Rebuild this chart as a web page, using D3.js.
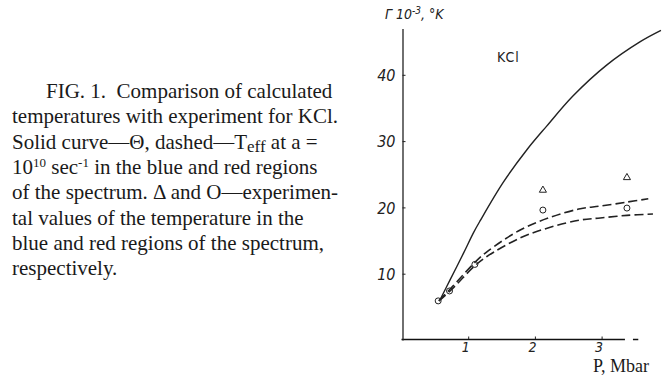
<!DOCTYPE html>
<html>
<head>
<meta charset="utf-8">
<script src="https://cdn.jsdelivr.net/npm/d3@7"></script>
<style>
  body { margin: 0; background: #fff; }
  .cap { font-family: "Liberation Serif", "Times New Roman", serif; font-size: 21px; fill: #1a1a1a; white-space: pre; }
  .tick text { font-family: "Liberation Sans Narrow", "DejaVu Sans Condensed", sans-serif; font-style: italic; font-size: 16px; fill: #222; }
  .xax .tick text { font-size: 14px; }
</style>
</head>
<body>
<svg id="chart" width="670" height="376"></svg>
<script>
// caption lines (text, sub/superscripts marked)
var captionLines = [
    [["FIG. 1.  Comparison of calculated", ""]],
    [["temperatures with experiment for KCl.", ""]],
    [["Solid curve\u2014\u0398, dashed\u2014T", ""], ["eff", "sub"], [" at a =", ""]],
    [["10", ""], ["10", "sup"], [" sec", ""], ["-1", "sup"], [" in the blue and red regions", ""]],
    [["of the spectrum. \u0394 and O\u2014experimen-", ""]],
    [["tal values of the temperature in the", ""]],
    [["blue and red regions of the spectrum,", ""]],
    [["respectively.", ""]]
];

// solid curve: Theta
var solidP = [0.58, 0.73, 0.93, 1.08, 1.18, 1.52, 1.88, 2.18, 2.57, 3.08, 3.58, 3.89];
var solidT = [6.1, 9.1, 13.1, 16.2, 18.0, 23.7, 28.7, 32.3, 36.8, 41.5, 45.0, 46.7];

// dashed curves: T_eff blue (upper) and red (lower)
var blueP = [0.56, 0.74, 1.10, 1.28, 1.78, 2.23, 2.68, 2.98, 3.38, 3.70];
var blueT = [5.9, 7.8, 11.7, 13.3, 16.6, 18.5, 19.8, 20.2, 20.8, 21.3];
var redP = [0.56, 0.74, 1.10, 1.28, 1.78, 2.23, 2.68, 2.98, 3.38, 3.77];
var redT = [5.9, 7.5, 11.2, 12.6, 15.4, 17.0, 18.1, 18.4, 18.8, 19.0];

// experimental points
var triP = [2.12, 3.38];
var triT = [22.6, 24.5];
var circP = [0.55, 0.72, 1.10, 2.12, 3.38];
var circT = [5.9, 7.4, 11.4, 19.6, 19.9];

var xTicks = [1, 2, 3];
var yTicks = [10, 20, 30, 40];

var svg = d3.select("#chart");
var ink = "#222";

// caption
var cap = svg.append("text").attr("class", "cap");
captionLines.forEach(function (line, i) {
    var t = cap.append("tspan")
        .attr("x", i == 0 ? 46 : 12)
        .attr("y", 98 + i * 25.3);
    line.forEach(function (part, j) {
        var s = j == 0 ? t : cap.append("tspan");
        s.text(part[0]);
        if (part[1] == "sup") s.attr("dy", -7).attr("font-size", 13);
        if (part[1] == "sub") s.attr("dy", 3).attr("font-size", 17);
        if (j > 0 && line[j - 1][1] == "sup") s.attr("dy", 7);
        if (j > 0 && line[j - 1][1] == "sub") s.attr("dy", -3);
    });
});

// scales
var x = d3.scaleLinear().domain([0, 3.55]).range([401.5, 401.5 + 3.55 * 66.7]);
var y = d3.scaleLinear().domain([0, 47]).range([340, 340 - 47 * 6.63]);

var xAxis = svg.append("g")
    .attr("class", "xax")
    .attr("transform", "translate(0,339.5)")
    .call(d3.axisBottom(x).tickValues(xTicks).tickFormat(d3.format("d"))
        .tickSizeInner(-3).tickSizeOuter(0).tickPadding(3));
xAxis.select(".domain").remove();
xAxis.selectAll(".tick line").attr("stroke", ink);
xAxis.selectAll(".tick text").attr("dx", -3);

// x axis base line with its small detached end piece
[[0, 3.35], [3.47, 3.55]].forEach(function (seg) {
    svg.append("path")
        .attr("d", "M" + x(seg[0]) + "," + (y(0) - 0.5) + "H" + x(seg[1]))
        .attr("fill", "none")
        .attr("stroke", "#111").attr("stroke-width", 1.5);
});

var yAxis = svg.append("g")
    .attr("transform", "translate(402.5,0)")
    .call(d3.axisRight(y).tickValues(yTicks).tickSizeInner(3).tickSizeOuter(0));
yAxis.select(".domain").attr("stroke", ink).attr("stroke-width", 1.3);
yAxis.selectAll(".tick line").attr("stroke", ink);
yAxis.selectAll(".tick text").attr("x", -7).attr("text-anchor", "end").attr("dy", "0.35em");

// axis titles
var yt = svg.append("text")
    .attr("x", 385).attr("y", 19)
    .attr("font-family", "'Liberation Sans Narrow', 'DejaVu Sans Condensed', sans-serif")
    .attr("font-style", "italic").attr("font-size", 14).attr("fill", ink);
yt.append("tspan").text("\u0413 10");
yt.append("tspan").attr("dy", -5).attr("font-size", 10).text("-3");
yt.append("tspan").attr("dy", 5).text(", \u00b0K");

svg.append("text")
    .attr("x", 497).attr("y", 62)
    .attr("font-family", "'Liberation Sans Narrow', 'DejaVu Sans Condensed', sans-serif")
    .attr("font-size", 14).attr("letter-spacing", 1).attr("fill", ink)
    .text("KCl");

svg.append("text")
    .attr("x", 593).attr("y", 372)
    .attr("font-family", "'Liberation Serif', serif")
    .attr("font-size", 18).attr("fill", "#1a1a1a")
    .text("P, Mbar");

// curves
var line = d3.line()
    .x(function (d) { return x(d[0]); })
    .y(function (d) { return y(d[1]); })
    .curve(d3.curveCatmullRom.alpha(0.5));

function pairs(a, b) { return a.map(function (v, i) { return [v, b[i]]; }); }

svg.append("path").datum(pairs(solidP, solidT))
    .attr("d", line).attr("fill", "none").attr("stroke", ink).attr("stroke-width", 1.4);

[pairs(blueP, blueT), pairs(redP, redT)].forEach(function (data) {
    svg.append("path").datum(data)
        .attr("d", line).attr("fill", "none").attr("stroke", ink)
        .attr("stroke-width", 1.6).attr("stroke-dasharray", "9 4");
});

// experimental points
svg.selectAll(".tri").data(pairs(triP, triT)).enter().append("path")
    .attr("class", "tri")
    .attr("transform", function (d) { return "translate(" + x(d[0]) + "," + y(d[1]) + ")"; })
    .attr("d", d3.symbol(d3.symbolTriangle, 22))
    .attr("fill", "#fff").attr("stroke", ink).attr("stroke-width", 1);

svg.selectAll(".circ").data(pairs(circP, circT)).enter().append("circle")
    .attr("class", "circ")
    .attr("cx", function (d) { return x(d[0]); })
    .attr("cy", function (d) { return y(d[1]); })
    .attr("r", 3)
    .attr("fill", "none").attr("stroke", ink).attr("stroke-width", 1);
</script>
</body>
</html>
